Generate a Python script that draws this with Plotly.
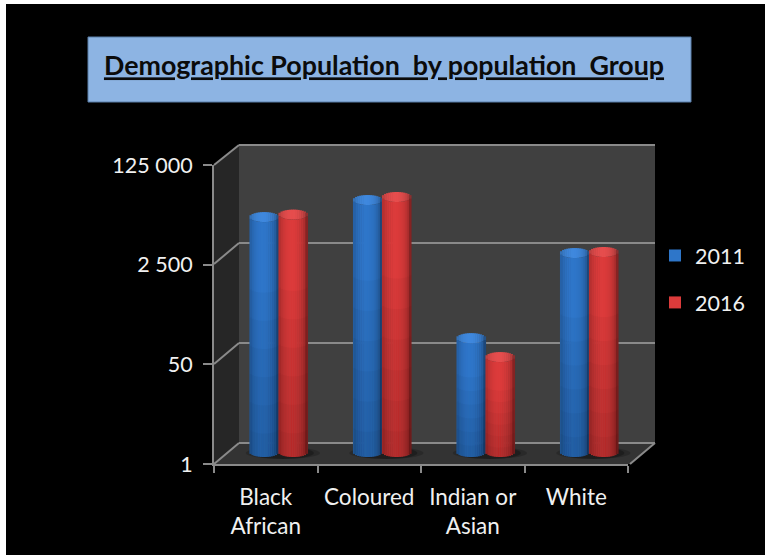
import math
import plotly.graph_objects as go

categories = ["Black<br>African", "Coloured", "Indian or<br>Asian", "White"]
values_2011 = [9800, 19100, 86, 2400]
values_2016 = [10800, 21500, 41, 2500]
y_tick_vals = [1, 50, 2500, 125000]
y_tick_text = ["1", "50", "2 500", "125 000"]

W, H = 765, 555
FONT = "Lato"
GRID = "#8a8a8a"
TEXT = "#f0f0f0"
PX_DEC = 300 / math.log10(125000)


def px(x):
    return x / W


def py(y):
    return 1 - y / H


def poly(points, fill):
    path = "M" + "L".join(f"{px(x)},{py(y)}" for x, y in points) + "Z"
    return dict(type="path", path=path, xref="paper", yref="paper", fillcolor=fill,
                line=dict(width=0), layer="below")


def seg(x0, y0, x1, y1, color=GRID, w=2):
    return dict(type="line", xref="paper", yref="paper", x0=px(x0), y0=py(y0), x1=px(x1), y1=py(y1),
                line=dict(color=color, width=w), layer="below")


shapes = [
    dict(type="rect", xref="paper", yref="paper", x0=px(6), x1=px(765), y0=py(555), y1=py(4),
         fillcolor="#000000", line=dict(width=0), layer="below"),
    dict(type="rect", xref="paper", yref="paper", x0=px(88), x1=px(691), y0=py(102), y1=py(37),
         fillcolor="#8db4e3", line=dict(color="#5b7fa8", width=1), layer="below"),
    poly([(239, 145), (655, 145), (655, 443), (239, 443)], "#404040"),
    poly([(214, 165), (239, 145), (239, 443), (214, 464)], "#262626"),
    poly([(214, 464), (239, 443), (655, 443), (630, 464)], "#333333"),
]
for y_front, y_back in [(165, 145), (264, 243), (364, 343), (464, 443)]:
    shapes.append(seg(214, y_front, 239, y_back))
    shapes.append(seg(239, y_back, 655, y_back))
shapes.append(seg(630, 464, 655, 443))
# soft floor shadows behind each pair of cylinders
for c in range(len(categories)):
    for grow, alpha in [(0.06, 0.18), (0.0, 0.25)]:
        shapes.append(dict(type="circle", xref="x3", yref="paper", x0=c - 0.26 - grow, x1=c + 0.34 + grow,
                           y0=py(459), y1=py(447), fillcolor=f"rgba(0,0,0,{alpha})",
                           line=dict(width=0), layer="below"))

STRIPS = 14
BAR_W = 0.28
us = [-1 + (2 * i + 1) / STRIPS for i in range(STRIPS)]
arc = 5 / PX_DEC


def shade(rgb, f):
    return "rgb(%d,%d,%d)" % tuple(min(255, int(c * f)) for c in rgb)


def bright(u):
    return 0.62 + 0.40 * math.sqrt(max(0, 1 - (u + 0.1) ** 2))


fig = go.Figure()

# front axes (ticks and labels)
fig.add_trace(go.Scatter(x=categories, y=[1, 1, 1, 1], xaxis="x", yaxis="y", mode="markers",
                         marker=dict(opacity=0), showlegend=False, hoverinfo="skip"))

series = [("2011", values_2011, -1, (46, 116, 198), (62, 134, 218)),
          ("2016", values_2016, 1, (216, 58, 58), (226, 76, 76))]

for idx, (name, values, side, body, cap) in enumerate(series):
    order = sorted(us, key=lambda u: -bright(u))
    xs, cap_top, cap_base, body_y, body_base, body_c, cap_c = [], [], [], [], [], [], []
    for c, v in enumerate(values):
        for u in order:
            s = math.sqrt(1 - u * u)
            xs.append(c + side * BAR_W / 2 + u * BAR_W / 2)
            b = 10 ** (-arc * s)
            body_base.append(b)
            body_y.append(v * 10 ** (-arc * s) - b)
            cap_base.append(v * 10 ** (-arc * s))
            cap_top.append(v * 10 ** (arc * s) - v * 10 ** (-arc * s))
            body_c.append(shade(body, bright(u)))
            cap_c.append(shade(cap, bright(u)))
    w = BAR_W / STRIPS
    fig.add_trace(go.Bar(x=xs, y=cap_top, base=cap_base, width=w * 1.3, xaxis="x3", yaxis="y3",
                         marker=dict(color=cap_c, line=dict(width=0)), showlegend=False,
                         hoverinfo="skip"))
    fig.add_trace(go.Bar(x=xs, y=body_y, base=body_base, width=w * 1.3, xaxis="x3", yaxis="y3", name=name,
                         legendgroup=name, marker=dict(color=body_c, line=dict(width=0))))
    # darkening toward the base of each cylinder
    for frac in (0.7, 0.58, 0.46, 0.34, 0.22, 0.1):
        ys, bases = [], []
        for c, v in enumerate(values):
            for u in order:
                s = math.sqrt(1 - u * u)
                b = 10 ** (-arc * s)
                top = 10 ** (math.log10(v) * frac - arc * s)
                bases.append(b)
                ys.append(max(top - b, 0))
        fig.add_trace(go.Bar(x=xs, y=ys, base=bases, width=w, xaxis="x3", yaxis="y3",
                             marker=dict(color="rgba(0,0,0,0.03)", line=dict(width=0)),
                             showlegend=False, hoverinfo="skip"))

fig.update_layout(
    width=W, height=H, margin=dict(l=0, r=0, t=0, b=0), autosize=False,
    paper_bgcolor="#ffffff", plot_bgcolor="rgba(0,0,0,0)", barmode="overlay",
    shapes=shapes,
    title=dict(text="<b><u>Demographic Population  by population  Group</u></b>",
               x=384 / W, y=py(66), xref="paper", yref="paper", xanchor="center", yanchor="middle",
               font=dict(family=FONT, size=26.8, color="#0b0b0b")),
    font=dict(family=FONT, color=TEXT),
    legend=dict(x=px(655), y=py(235), xanchor="left", yanchor="top", bgcolor="rgba(0,0,0,0)",
                font=dict(family=FONT, size=21.5, color=TEXT), tracegroupgap=16,
                itemclick=False, itemdoubleclick=False),
    xaxis=dict(domain=[px(214), px(628)], type="category", categoryorder="array",
               categoryarray=categories, range=[-0.5, 3.5], tickson="boundaries", ticks="outside",
               ticklen=7, tickwidth=2, tickcolor=GRID, showline=True, linecolor=GRID, linewidth=2,
               showgrid=False, zeroline=False, anchor="y", automargin=False,
               tickfont=dict(family=FONT, size=22.5, color=TEXT), ticklabelstandoff=12, tickangle=0),
    yaxis=dict(domain=[py(464), py(165)], type="log", range=[0, math.log10(125000)],
               tickvals=y_tick_vals, ticktext=y_tick_text, ticks="outside", ticklen=9, tickwidth=2,
               tickcolor=GRID, showline=True, linecolor=GRID, linewidth=2, showgrid=False,
               zeroline=False, anchor="x", automargin=False,
               tickfont=dict(family=FONT, size=21.5, color=TEXT),
               ticklabelstandoff=6),
    xaxis3=dict(domain=[px(227), px(641)], range=[-0.5, 3.5], visible=False, anchor="y3", automargin=False),
    yaxis3=dict(domain=[py(462), py(152)], type="log", range=[-10 / PX_DEC, math.log10(125000)],
                visible=False, anchor="x3", automargin=False),
)

fig.write_html("out.html", config={"displayModeBar": False},
               post_script="document.body.style.margin='0';")
